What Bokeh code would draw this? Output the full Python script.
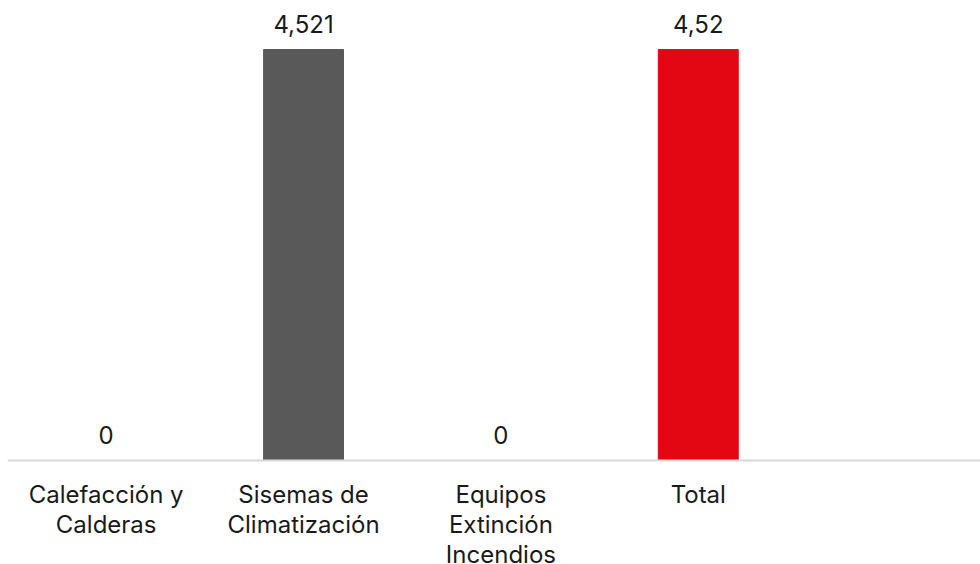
from bokeh.plotting import figure
from bokeh.models import ColumnDataSource, Range1d, Span
from bokeh.core.properties import value
from bokeh.embed import file_html
from bokeh.resources import INLINE

# Categories and values
categories = ["Calefacción y\nCalderas", "Sisemas de\nClimatización", "Equipos\nExtinción\nIncendios", "Total"]
values = [0, 4.521, 0, 4.52]
colors = ["#595959", "#595959", "#595959", "#E30613"]

FONT = "Inter"
TEXT_COLOR = "#1a1a1a"

positions = list(range(len(categories)))
labels = [f"{v:g}".replace(".", ",") for v in values]
baseline = [0] * len(categories)

source = ColumnDataSource(dict(x=positions, top=values, color=colors,
                               label=labels, cat=categories, base=baseline))

# Frame fills the whole page; the area below zero holds the category names
p = figure(
    width=980, height=564,
    x_range=Range1d(-0.5, 4.43), y_range=Range1d(-1.144, 5.06),
    output_backend="svg", toolbar_location=None,
    min_border_left=7, min_border_right=0, min_border_top=0, min_border_bottom=0,
)
p.outline_line_color = None
p.xgrid.visible = False
p.ygrid.visible = False
p.xaxis.visible = False
p.yaxis.visible = False

p.vbar(x="x", top="top", width=0.405, color="color", source=source)

# category axis line
p.add_layout(Span(location=0, dimension="width", line_color="#D9D9D9", line_width=2))

# value labels above each bar
p.text(x="x", y="top", text="label", source=source,
       text_align="center", text_baseline="alphabetic", y_offset=-26,
       text_font=value(FONT), text_font_size="24px", text_color=TEXT_COLOR)

# category names under the axis line
p.text(x="x", y="base", text="cat", source=source,
       text_align="center", text_baseline="top", y_offset=19,
       text_line_height=1.04,
       text_font=value(FONT), text_font_size="24px", text_color=TEXT_COLOR)

open("out.html", "w").write(file_html(p, INLINE))
